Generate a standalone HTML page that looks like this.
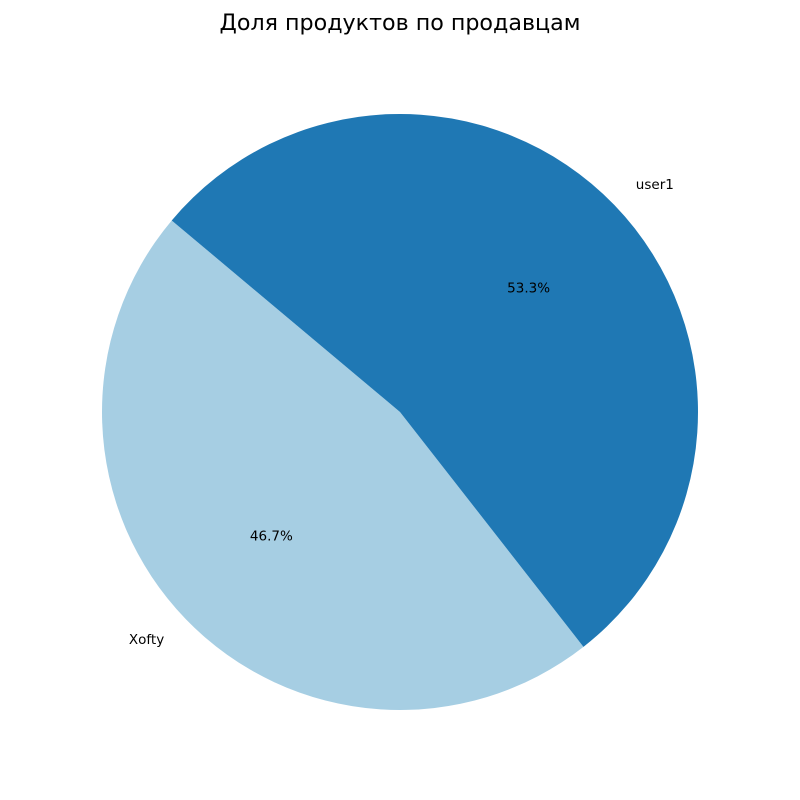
<!DOCTYPE html>
<html><head><meta charset="utf-8"><style>
html,body{margin:0;padding:0;background:#fff;}
svg{display:block;font-family:"DejaVu Sans","Liberation Sans",sans-serif;}
</style></head><body>
<svg id="chart" width="800" height="800" viewBox="0 0 800 800">
<text x="400" y="30" text-anchor="middle" font-size="22.2" fill="#000">Доля продуктов по продавцам</text>
</svg>
<script>
const categories = ["Xofty", "user1"];
const values = [7, 8];
const colors = ["#a6cee3", "#1f78b4"];

const svg = document.getElementById('chart');
const NS = 'http://www.w3.org/2000/svg';
const cx = 400, cy = 412, r = 298, startAngle = 140;
const total = values.reduce((a, b) => a + b, 0);
let a0 = startAngle;
function pt(deg, rad) {
  const t = deg * Math.PI / 180;
  return [cx + rad * Math.cos(t), cy - rad * Math.sin(t)];
}
values.forEach((v, i) => {
  const sweep = v / total * 360;
  const a1 = a0 + sweep;
  const [x0, y0] = pt(a0, r), [x1, y1] = pt(a1, r);
  const large = sweep > 180 ? 1 : 0;
  const p = document.createElementNS(NS, 'path');
  p.setAttribute('d', `M${cx},${cy} L${x0},${y0} A${r},${r} 0 ${large} 0 ${x1},${y1} Z`);
  p.setAttribute('fill', colors[i]);
  
  
  svg.appendChild(p);
  const mid = a0 + sweep / 2;
  const [lx, ly] = pt(mid, r * 1.1);
  const lab = document.createElementNS(NS, 'text');
  lab.setAttribute('x', lx);
  lab.setAttribute('y', ly + 4.5);
  lab.setAttribute('font-size', '13.5');
  lab.setAttribute('text-anchor', lx < cx ? 'end' : 'start');
  lab.textContent = categories[i];
  
  
  svg.appendChild(lab);
  const [px, py] = pt(mid, r * 0.6);
  const pct = document.createElementNS(NS, 'text');
  pct.setAttribute('x', px);
  pct.setAttribute('y', py + 4.5);
  pct.setAttribute('font-size', '13.5');
  pct.setAttribute('text-anchor', 'middle');
  pct.textContent = (v / total * 100).toFixed(1) + '%';
  
  
  svg.appendChild(pct);
  a0 = a1;
});
</script>
</body></html>
